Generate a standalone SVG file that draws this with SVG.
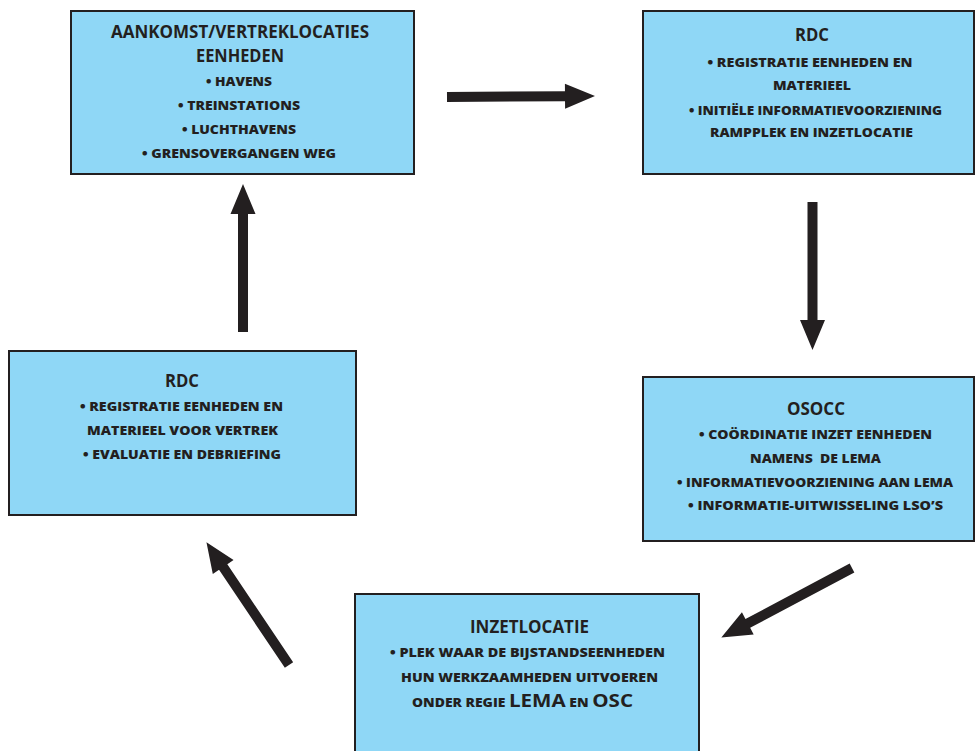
<svg xmlns="http://www.w3.org/2000/svg" width="976" height="751" viewBox="0 0 976 751">
<style>
.box{fill:#8fd7f6;stroke:#231f20;stroke-width:2}
text{fill:#231f20;font-family:"Open Sans","Noto Sans","Liberation Sans",sans-serif;text-anchor:middle}
.t{font-size:17px;font-weight:700}
.b{font-size:13px;font-weight:800}
.s{font-size:11.5px;font-weight:800}
.arrow{fill:#231f20}
</style>
<defs>
<path id="arr" d="M0,-5 H118 V-12.5 L148,0 L118,12.5 V5 H0 Z"/>
</defs>
<rect width="976" height="751" fill="#ffffff"/>
<g id="connectors" class="arrow">
<use href="#arr" transform="translate(447,97) rotate(-0.4)"/>
<use href="#arr" transform="translate(812.5,202) rotate(90)"/>
<use href="#arr" transform="translate(852,568) rotate(152)"/>
<use href="#arr" transform="translate(289,665) rotate(-123.9)"/>
<use href="#arr" transform="translate(243,332) rotate(-90)"/>
</g>
<g id="aankomst">
<rect class="box" x="71" y="11" width="343" height="163"/>
<text class="t" x="240" y="38" textLength="258" lengthAdjust="spacingAndGlyphs">AANKOMST/VERTREKLOCATIES</text>
<text class="t" x="240" y="62" textLength="88" lengthAdjust="spacingAndGlyphs">EENHEDEN</text>
<text class="b" x="239" y="86" textLength="66" lengthAdjust="spacingAndGlyphs">• HAVENS</text>
<text class="b" x="239" y="110" textLength="122" lengthAdjust="spacingAndGlyphs">• TREINSTATIONS</text>
<text class="b" x="239" y="134" textLength="114" lengthAdjust="spacingAndGlyphs">• LUCHTHAVENS</text>
<text class="b" x="239" y="158" textLength="194" lengthAdjust="spacingAndGlyphs">• GRENSOVERGANGEN WEG</text>
</g>
<g id="rdc-top">
<rect class="box" x="643" y="11" width="331" height="163"/>
<text class="t" x="812" y="41" textLength="34" lengthAdjust="spacingAndGlyphs">RDC</text>
<text class="b" x="810" y="67" textLength="205" lengthAdjust="spacingAndGlyphs">• REGISTRATIE EENHEDEN EN</text>
<text class="b" x="812" y="90" textLength="78" lengthAdjust="spacingAndGlyphs">MATERIEEL</text>
<text class="b" x="815.5" y="115" textLength="253" lengthAdjust="spacingAndGlyphs">• INITIËLE INFORMATIEVOORZIENING</text>
<text class="b" x="811.5" y="137" textLength="203" lengthAdjust="spacingAndGlyphs">RAMPPLEK EN INZETLOCATIE</text>
</g>
<g id="osocc">
<rect class="box" x="643" y="377" width="331" height="164"/>
<text class="t" x="816" y="415" textLength="58" lengthAdjust="spacingAndGlyphs">OSOCC</text>
<text class="b" x="815.5" y="439" textLength="233" lengthAdjust="spacingAndGlyphs">• COÖRDINATIE INZET EENHEDEN</text>
<text class="b" x="815.5" y="463" textLength="131" lengthAdjust="spacingAndGlyphs" xml:space="preserve">NAMENS  DE LEMA</text>
<text class="b" x="815" y="487" textLength="276" lengthAdjust="spacingAndGlyphs">• INFORMATIEVOORZIENING AAN LEMA</text>
<text class="b" x="815.5" y="510" textLength="255" lengthAdjust="spacingAndGlyphs">• INFORMATIE-UITWISSELING LSO’S</text>
</g>
<g id="rdc-left">
<rect class="box" x="9" y="351" width="347" height="164"/>
<text class="t" x="182" y="387" textLength="34" lengthAdjust="spacingAndGlyphs">RDC</text>
<text class="b" x="181.5" y="411" textLength="203" lengthAdjust="spacingAndGlyphs">• REGISTRATIE EENHEDEN EN</text>
<text class="b" x="182.5" y="435" textLength="191" lengthAdjust="spacingAndGlyphs">MATERIEEL VOOR VERTREK</text>
<text class="b" x="182" y="459" textLength="198" lengthAdjust="spacingAndGlyphs">• EVALUATIE EN DEBRIEFING</text>
</g>
<g id="inzetlocatie">
<rect class="box" x="355" y="594" width="344" height="170"/>
<text class="t" x="529.5" y="633" textLength="119" lengthAdjust="spacingAndGlyphs">INZETLOCATIE</text>
<text class="b" x="527.5" y="657" textLength="275" lengthAdjust="spacingAndGlyphs">• PLEK WAAR DE BIJSTANDSEENHEDEN</text>
<text class="b" x="529.5" y="682" textLength="257" lengthAdjust="spacingAndGlyphs">HUN WERKZAAMHEDEN UITVOEREN</text>
<text x="522.5" y="707" textLength="221" lengthAdjust="spacingAndGlyphs"><tspan class="s">ONDER REGIE </tspan><tspan class="t">LEMA</tspan><tspan class="s"> EN </tspan><tspan class="t">OSC</tspan></text>
</g>
</svg>
